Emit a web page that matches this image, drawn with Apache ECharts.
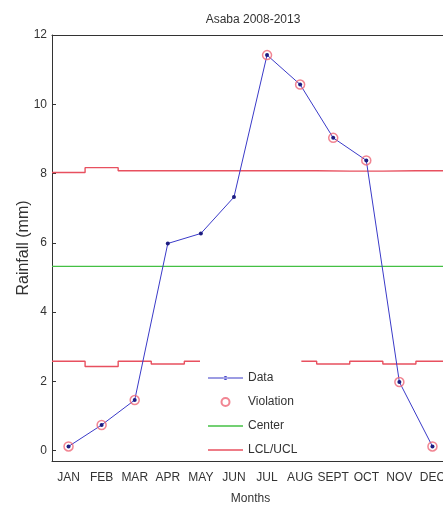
<!DOCTYPE html>
<html>
<head>
<meta charset="utf-8">
<script src="https://cdn.jsdelivr.net/npm/echarts@6/dist/echarts.min.js"></script>
<style>
  html, body { margin: 0; padding: 0; background: #fff; }
  #main { width: 443px; height: 506px; }
</style>
</head>
<body>
<div id="main"></div>
<script type="text/javascript">
    // months on the x axis
    var months = ['JAN', 'FEB', 'MAR', 'APR', 'MAY', 'JUN', 'JUL', 'AUG', 'SEPT', 'OCT', 'NOV', 'DEC'];
    // monthly rainfall (mm)
    var rainfall = [0.12, 0.74, 1.46, 5.98, 6.27, 7.32, 11.42, 10.57, 9.03, 8.38, 1.98, 0.12];
    // control limits per month
    var ucl = [8.03, 8.17, 8.08, 8.08, 8.08, 8.08, 8.08, 8.08, 8.07, 8.07, 8.08, 8.08];
    var lcl = [2.58, 2.43, 2.58, 2.50, 2.58, 2.55, 2.52, 2.58, 2.50, 2.58, 2.50, 2.58];
    var center = 5.32;

    var font = 'Liberation Sans, Arial, sans-serif';

    // points outside the limits
    var violation = rainfall.map(function (v, i) {
        return (v > ucl[i] || v < lcl[i]) ? v : null;
    });

    // stairs: each month holds its limit over its band
    var stairs = function (arr) {
        var out = arr.map(function (v, i) { return [i + 0.5, v]; });
        out.push([arr.length + 0.5, arr[arr.length - 1]]);
        return out;
    };

    // legend icons (matlab style: plain line, line with a dot)
    var lineIcon = 'path://M0,0 H35 V1.4 H0 Z';
    var dotLineIcon = 'path://M0,4.5 H35 V5.5 H0 Z M15.5,5 A2,2 0 1,0 19.5,5 A2,2 0 1,0 15.5,5 Z';
    var ringIcon = 'path://M0,3.5 A3.5,3.5 0 1,1 7,3.5 A3.5,3.5 0 1,1 0,3.5 Z M1.4,3.5 A2.1,2.1 0 1,0 5.6,3.5 A2.1,2.1 0 1,0 1.4,3.5 Z';

    var myChart = echarts.init(document.getElementById('main'));

    var axisColor = '#333';
    var option = {
        animation: false,
        title: {
            text: 'Asaba 2008-2013',
            left: 248,
            textAlign: 'center',
            top: 9,
            textStyle: { fontFamily: font, fontSize: 12, fontWeight: 'normal', color: '#333' }
        },
        legend: {
            data: [
                { name: 'Data', icon: dotLineIcon, itemStyle: { color: '#3a3ac8' } },
                { name: 'Violation', icon: ringIcon, itemStyle: { color: '#ee6677', borderWidth: 0 } },
                { name: 'Center', icon: lineIcon },
                { name: 'LCL/UCL', icon: lineIcon }
            ],
            orient: 'vertical',
            left: 200,
            top: 358,
            padding: [14, 4, 4, 8],
            itemWidth: 35,
            itemHeight: 10,
            itemGap: 12,
            backgroundColor: '#fff',
            z: 10,
            textStyle: { fontFamily: font, fontSize: 12, color: '#333' }
        },
        grid: {
            left: 52,
            top: 35,
            right: -6,
            bottom: 45,
            outerBoundsMode: 'none'
        },
        xAxis: [{
            type: 'category',
            data: months,
            position: 'bottom',
            axisLine: { onZero: false, lineStyle: { color: axisColor, width: 1 } },
            axisTick: { inside: true, alignWithLabel: true, length: 4, lineStyle: { color: axisColor } },
            axisLabel: { margin: 11, fontFamily: font, fontSize: 12, color: '#333', interval: 0 },
            splitLine: { show: false },
            name: 'Months',
            nameLocation: 'middle',
            nameGap: 32,
            nameMoveOverlap: false,
            nameTextStyle: { fontFamily: font, fontSize: 12, color: '#333' }
        }, {
            type: 'category',
            data: months,
            position: 'top',
            axisLine: { onZero: false, lineStyle: { color: axisColor, width: 1 } },
            axisTick: { inside: true, alignWithLabel: true, length: 4, lineStyle: { color: axisColor } },
            axisLabel: { show: false },
            splitLine: { show: false }
        }, {
            type: 'value',
            min: 0.5,
            max: 12.5,
            show: false,
            splitLine: { show: false }
        }],
        yAxis: {
            type: 'value',
            min: -0.3,
            max: 12,
            splitNumber: 6,
            axisLine: { show: true, onZero: false, lineStyle: { color: axisColor, width: 1 } },
            axisTick: { show: true, inside: true, length: 4, lineStyle: { color: axisColor } },
            axisLabel: { showMinLabel: false, margin: 5, fontFamily: font, fontSize: 12, color: '#333' },
            splitLine: { show: false },
            name: 'Rainfall (mm)',
            nameLocation: 'middle',
            nameGap: 20,
            nameRotate: 90,
            nameMoveOverlap: false,
            nameTextStyle: { fontFamily: font, fontSize: 16, color: '#333' }
        },
        series: [{
            name: 'Center',
            type: 'line',
            xAxisIndex: 2,
            data: [[0.5, center], [12.5, center]],
            symbol: 'none',
            lineStyle: { color: '#44c044', width: 1.2 },
            itemStyle: { color: '#44c044' },
            z: 1
        }, {
            name: 'LCL/UCL',
            type: 'line',
            xAxisIndex: 2,
            step: 'end',
            data: stairs(ucl),
            symbol: 'none',
            lineStyle: { color: '#e8505f', width: 1.4 },
            itemStyle: { color: '#e8505f' },
            z: 1
        }, {
            name: 'LCL/UCL',
            type: 'line',
            xAxisIndex: 2,
            step: 'end',
            data: stairs(lcl),
            symbol: 'none',
            lineStyle: { color: '#e8505f', width: 1.4 },
            itemStyle: { color: '#e8505f' },
            z: 1
        }, {
            name: 'Data',
            type: 'line',
            xAxisIndex: 0,
            data: rainfall,
            symbol: 'circle',
            symbolSize: 4,
            showAllSymbol: true,
            lineStyle: { color: '#3a3ac8', width: 1 },
            itemStyle: { color: '#1c1c80' },
            z: 3
        }, {
            name: 'Violation',
            type: 'scatter',
            xAxisIndex: 0,
            data: violation,
            symbol: 'circle',
            symbolSize: 9,
            itemStyle: { color: 'rgba(0,0,0,0)', borderColor: '#ee6677', borderWidth: 1.5 },
            z: 4
        }]
    };
    myChart.setOption(option, true);
</script>
</body>
</html>
